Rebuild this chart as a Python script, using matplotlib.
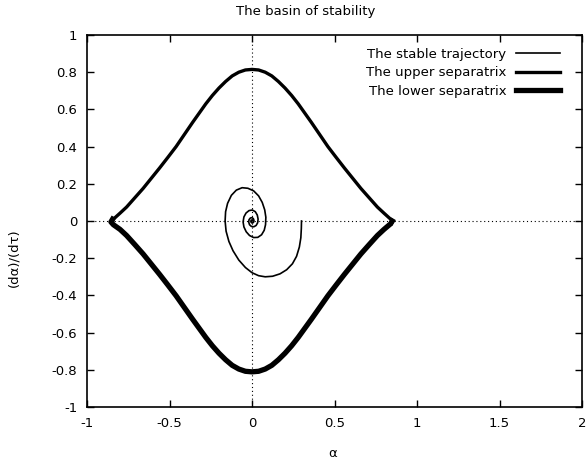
import matplotlib
matplotlib.use('agg')
import matplotlib.pyplot as plt

# values
spiral_x = [0.30, 0.299, 0.296, 0.287, 0.27, 0.245, 0.21, 0.17, 0.125, 0.08, 0.04, 0.0,
            -0.04, -0.08, -0.115, -0.14, -0.157, -0.163, -0.16, -0.148, -0.125, -0.095,
            -0.06, -0.025, 0.01, 0.04, 0.062, 0.077, 0.084, 0.082, 0.074, 0.058, 0.035,
            0.01, -0.015, -0.035, -0.049, -0.054, -0.049, -0.036, -0.018, 0.002, 0.02,
            0.032, 0.037, 0.034, 0.025, 0.011, -0.004, -0.015, -0.02, -0.018, -0.01, 0.0,
            0.008, 0.012, 0.01, 0.003, -0.004, -0.007, -0.005, 0.0, 0.003, 0.0]
spiral_y = [0.0, -0.04, -0.09, -0.14, -0.19, -0.23, -0.262, -0.284, -0.297, -0.30, -0.294,
            -0.278, -0.25, -0.21, -0.16, -0.11, -0.055, 0.0, 0.05, 0.095, 0.138, 0.166,
            0.179, 0.176, 0.162, 0.135, 0.1, 0.06, 0.02, -0.02, -0.05, -0.074, -0.088,
            -0.089, -0.078, -0.058, -0.032, -0.005, 0.022, 0.043, 0.056, 0.059, 0.05,
            0.032, 0.01, -0.01, -0.024, -0.031, -0.029, -0.02, -0.006, 0.007, 0.016, 0.018,
            0.013, 0.003, -0.006, -0.011, -0.009, -0.002, 0.004, 0.006, 0.002, 0.0]

upper_x = [-0.85, -0.84, -0.80, -0.76, -0.71, -0.66, -0.61, -0.56, -0.51, -0.46, -0.41, -0.36,
           -0.32, -0.28, -0.24, -0.20, -0.16, -0.12, -0.08, -0.04, 0.0, 0.04, 0.08, 0.12,
           0.16, 0.20, 0.24, 0.28, 0.32, 0.36, 0.41, 0.46, 0.51, 0.56, 0.61, 0.66, 0.71,
           0.76, 0.80, 0.84, 0.855, 0.845]
upper_y = [-0.01, 0.01, 0.042, 0.075, 0.125, 0.175, 0.23, 0.285, 0.342, 0.40, 0.465, 0.53,
           0.58, 0.63, 0.675, 0.715, 0.75, 0.78, 0.80, 0.812, 0.815, 0.812, 0.80, 0.78,
           0.75, 0.715, 0.675, 0.63, 0.58, 0.53, 0.465, 0.40, 0.342, 0.285, 0.23, 0.175, 0.125,
           0.075, 0.042, 0.01, 0.0, -0.015]

lower_x = [-0.845, -0.855, -0.84, -0.80, -0.76, -0.71, -0.66, -0.61, -0.56, -0.51, -0.46, -0.41,
           -0.36, -0.32, -0.28, -0.24, -0.20, -0.16, -0.12, -0.08, -0.04, 0.0, 0.04, 0.08,
           0.12, 0.16, 0.20, 0.24, 0.28, 0.32, 0.36, 0.41, 0.46, 0.51, 0.56, 0.61, 0.66,
           0.71, 0.76, 0.80, 0.84, 0.85]
lower_y = [0.01, -0.005, -0.02, -0.045, -0.078, -0.127, -0.177, -0.232, -0.287, -0.344, -0.402,
           -0.465, -0.528, -0.577, -0.626, -0.671, -0.711, -0.746, -0.776, -0.796, -0.808,
           -0.811, -0.808, -0.796, -0.776, -0.746, -0.711, -0.671, -0.626, -0.577, -0.528,
           -0.465, -0.402, -0.344, -0.287, -0.232, -0.177, -0.127, -0.078, -0.045, -0.015, 0.0]

xticks = [-1, -0.5, 0, 0.5, 1, 1.5, 2]
yticks = [-1, -0.8, -0.6, -0.4, -0.2, 0, 0.2, 0.4, 0.6, 0.8, 1]

plt.rcParams['font.family'] = 'DejaVu Sans'
fig = plt.figure(figsize=(5.86, 4.69), dpi=100)
ax = fig.add_axes([87/586, 1 - 407/469, 495/586, 372/469])

ax.axhline(0, color='black', lw=0.8, ls=(0, (1, 2.5)), zorder=1)
ax.axvline(0, color='black', lw=0.8, ls=(0, (1, 2.5)), zorder=1)

ax.plot(spiral_x, spiral_y, color='black', lw=1.2, solid_joinstyle='round',
        label='The stable trajectory')
ax.plot(upper_x, upper_y, color='black', lw=2.4, solid_joinstyle='round',
        label='The upper separatrix')
ax.plot(lower_x, lower_y, color='black', lw=3.8, solid_joinstyle='round',
        label='The lower separatrix')

ax.set_xlim(-1, 2)
ax.set_ylim(-1, 1)
ax.set_xticks(xticks)
ax.set_yticks(yticks)
ax.set_xticklabels([f'{t:g}' for t in xticks])
ax.set_yticklabels([f'{t:g}' for t in yticks])
ax.tick_params(direction='in', top=True, right=True, length=5, width=1,
               labelsize=9.5, pad=7)
for s in ax.spines.values():
    s.set_linewidth(1.2)

leg = ax.legend(loc='upper right', bbox_to_anchor=(0.975, 0.99), markerfirst=False,
                frameon=False, fontsize=9.5, handlelength=3.4, handletextpad=0.7,
                labelspacing=0.42, borderaxespad=0.3)
for t in leg.get_texts():
    t.set_ha('right')

fig.text(306/586, 1 - 12/469, 'The basin of stability', ha='center', va='center', fontsize=9.5)
fig.text(333/586, 1 - 453/469, 'α', ha='center', va='center', fontsize=9.5)
fig.text(14/586, 1 - 258/469, '(dα)/(dτ)', ha='center', va='center', rotation=90, fontsize=9.5)

fig.savefig('out.png', dpi=100)
